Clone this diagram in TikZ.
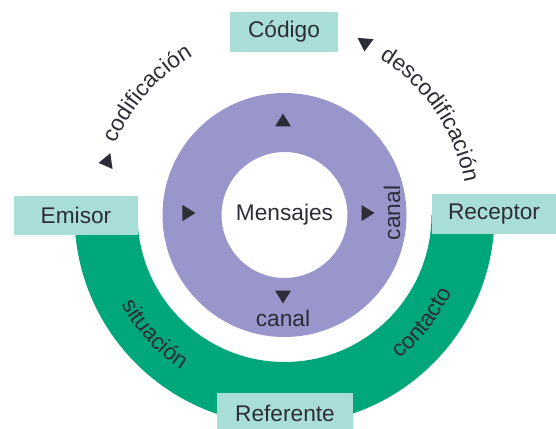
\documentclass[tikz,border=0pt]{standalone}
\usepackage{fontspec}
\setmainfont{Liberation Sans}
\usetikzlibrary{decorations.text}
\definecolor{boxteal}{RGB}{169,222,216}
\definecolor{bandgreen}{RGB}{0,167,122}
\definecolor{ringpurple}{RGB}{152,150,203}
\definecolor{labeltext}{RGB}{45,45,55}
\newcommand{\lblfont}{\fontsize{17}{20}\selectfont}

\begin{document}
\begin{tikzpicture}[x=0.75pt,y=0.75pt,
		box/.style={fill=boxteal,inner sep=0pt,text=labeltext,font=\lblfont,minimum width=93pt,minimum height=30pt},
		lbl/.style={text=labeltext,font=\lblfont,inner sep=0pt},
		arclbl/.style={decorate,decoration={text along path,text align=center,text color=labeltext,text={|\lblfont|#1}}}]
		\useasboundingbox (-284.5,-213) rectangle (271.5,215);
		% green band, lower half
		\fill[bandgreen] (180:210) arc (180:360:210) -- (0:147) arc (360:180:147) -- cycle;
		% purple ring
		\fill[ringpurple,even odd rule] (0,0) circle (122) (0,0) circle (63);
		% boxes
		\node[box,minimum width=81pt] (codigo) at (-0.5,183) {Código};
		\node[box,minimum height=29.25pt] (emisor) at (-208.5,-0.5) {Emisor};
		\node[box] (receptor) at (209.5,1) {Receptor};
		\node[box,minimum width=102pt] (referente) at (0.5,-198) {Referente};
		% texts in the ring
		\node[lbl] (mensajes) at (0,0) {Mensajes};
		\node[lbl,rotate=90] (canalder) at (107.5,2) {canal};
		\node[lbl] (canalinf) at (-1.5,-103) {canal};
		% texts along the circles
		\path[arclbl={codificación}] (175:183) arc (175:102:183);
		\path[arclbl={descodificación}] (70:183) arc (70:-1:183);
		\path[arclbl={situación}] (200:186) arc (200:245:186);
		\path[arclbl={contacto}] (-60:184) arc (-60:-16:184);
		% small triangles
		\foreach \x/\y/\a in {-1.5/95/90,-95.5/2/0,83.5/2/0,-1.5/-82/270,-179.5/53/188,80.5/170/265}
			\fill[labeltext,shift={(\x,\y)},rotate=\a] (6.5,0) -- (-6.5,8) -- (-6.5,-8) -- cycle;
	\end{tikzpicture}
\end{document}
